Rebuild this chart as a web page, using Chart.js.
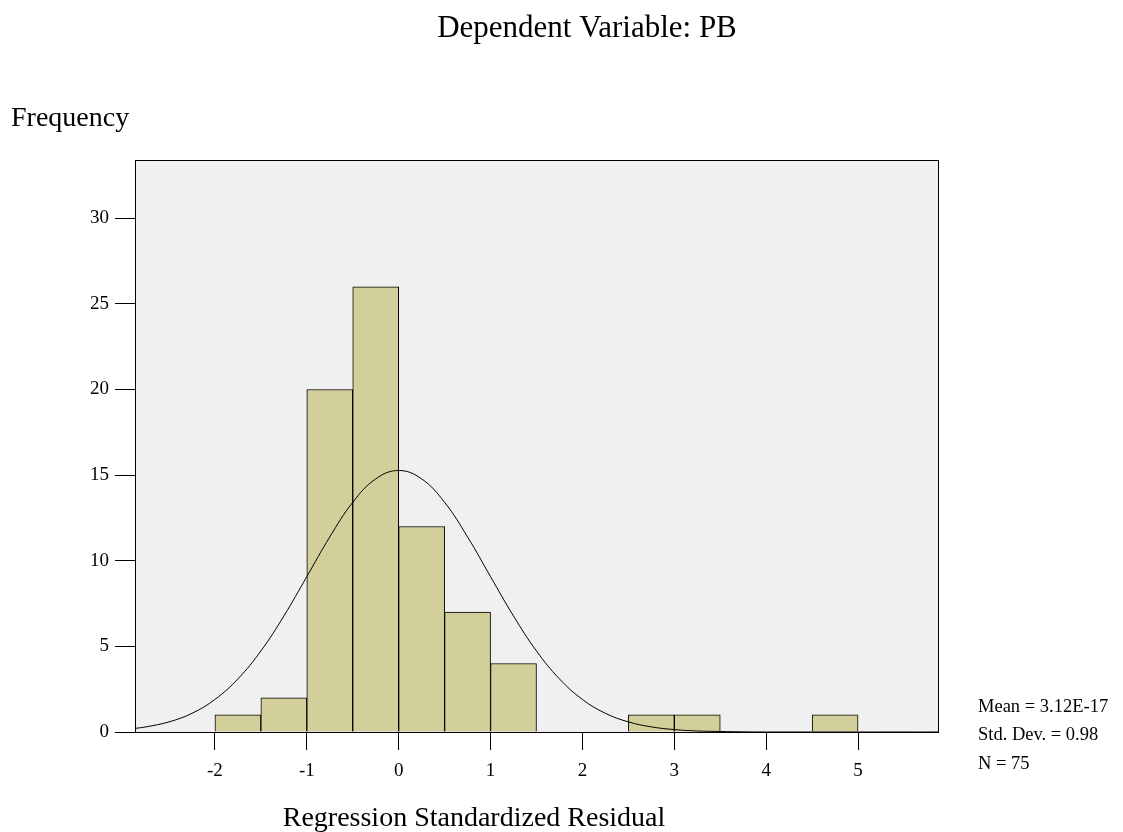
<!DOCTYPE html>
<html>
<head>
<meta charset="utf-8">
<script src="https://cdn.jsdelivr.net/npm/chart.js@4/dist/chart.umd.min.js"></script>
<style>
  body { margin: 0; background: #fff; }
  #wrap { width: 1123px; height: 832px; }
</style>
</head>
<body>
<div id="wrap"><canvas id="myChart" width="1123" height="832"></canvas></div>
<script>
// histogram data (bin centres, width 0.5)
const binCenters = [-1.75, -1.25, -0.75, -0.25, 0.25, 0.75, 1.25, 2.75, 3.25, 4.75]
const binCounts = [1, 2, 20, 26, 12, 7, 4, 1, 1, 1]

// normal curve
const curveX = [-2.87, -2.75, -2.5, -2.25, -2, -1.75, -1.5, -1.25, -1, -0.75, -0.5, -0.25, 0,
    0.25, 0.5, 0.75, 1, 1.25, 1.5, 1.75, 2, 2.25, 2.5, 2.75, 3, 3.25, 3.5, 3.75, 4, 5, 5.87]
const curveY = [0.21, 0.30, 0.59, 1.09, 1.90, 3.10, 4.73, 6.77, 9.07, 11.39, 13.41, 14.78, 15.27,
    14.78, 13.41, 11.39, 9.07, 6.77, 4.73, 3.10, 1.90, 1.09, 0.59, 0.30, 0.14, 0.06, 0.03, 0.01, 0, 0, 0]

const xTicks = [-2, -1, 0, 1, 2, 3, 4, 5]
const yTicks = [0, 5, 10, 15, 20, 25, 30]

const titleText = 'Dependent Variable: PB'
const yTitle = 'Frequency'
const xTitle = 'Regression Standardized Residual'
const statsLines = ['Mean = 3.12E-17', 'Std. Dev. = 0.98', 'N = 75']

const FONT = '"Liberation Serif", "DejaVu Serif", serif'

const decorPlugin = {
    id: 'decor',
    beforeDraw(chart) {
        const { ctx, chartArea: a } = chart
        ctx.save()
        ctx.fillStyle = '#f0f0f0'
        ctx.fillRect(a.left, a.top, a.right - a.left, a.bottom - a.top)
        ctx.restore()
    },
    afterDraw(chart) {
        const { ctx, chartArea: a } = chart
        ctx.save()
        ctx.strokeStyle = '#000'
        ctx.lineWidth = 1
        ctx.strokeRect(a.left + 0.5, a.top + 0.5, a.right - a.left, a.bottom - a.top)

        ctx.fillStyle = '#000'
        ctx.textBaseline = 'middle'
        ctx.textAlign = 'center'
        ctx.font = '31px ' + FONT
        ctx.fillText(titleText, 587, 29)

        ctx.textAlign = 'left'
        ctx.font = '28px ' + FONT
        ctx.fillText(yTitle, 11, 119)

        ctx.textAlign = 'center'
        ctx.fillText(xTitle, 474, 819)

        ctx.textAlign = 'left'
        ctx.font = '18.5px ' + FONT
        statsLines.forEach((s, i) => ctx.fillText(s, 978, 707 + i * 28.5))
        ctx.restore()
    }
}

const ctx = document.getElementById('myChart')

new Chart(ctx, {
    type: 'bar',
    data: {
        datasets: [{
            type: 'line',
            data: curveX.map((x, i) => ({ x: x, y: curveY[i] })),
            borderColor: '#000',
            borderWidth: 1,
            pointRadius: 0,
            tension: 0.4,
            fill: false,
            order: 0
        }, {
            type: 'bar',
            data: binCenters.map((x, i) => ({ x: x, y: binCounts[i] })),
            backgroundColor: '#d3cf9a',
            borderColor: '#000',
            borderWidth: 1,
            barPercentage: 1,
            categoryPercentage: 1,
            order: 1
        }]
    },
    options: {
        responsive: false,
        animation: false,
        layout: { padding: { left: 0, right: 185, top: 160, bottom: 0 } },
        plugins: {
            legend: { display: false },
            tooltip: { enabled: false }
        },
        scales: {
            x: {
                type: 'linear',
                offset: false,
                min: -2.87,
                max: 5.87,
                afterBuildTicks: s => { s.ticks = xTicks.map(v => ({ value: v })) },
                afterFit: s => { s.height = 100 },
                grid: { offset: false, drawOnChartArea: false, tickLength: 18, color: '#000', tickColor: '#000' },
                border: { display: false },
                ticks: {
                    color: '#000',
                    padding: 10,
                    maxRotation: 0,
                    font: { family: FONT, size: 19 }
                }
            },
            y: {
                min: 0,
                max: 33.4,
                afterBuildTicks: s => { s.ticks = yTicks.map(v => ({ value: v })) },
                afterFit: s => { s.width = 135 },
                grid: { drawOnChartArea: false, tickLength: 20, color: '#000', tickColor: '#000' },
                border: { display: false },
                ticks: {
                    color: '#000',
                    padding: 6,
                    font: { family: FONT, size: 19 }
                }
            }
        }
    },
    plugins: [decorPlugin]
})
</script>
</body>
</html>
